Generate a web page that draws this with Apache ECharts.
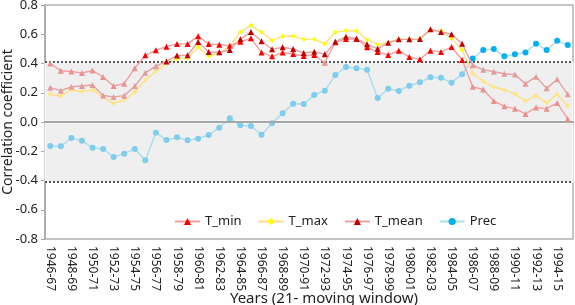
<!DOCTYPE html>
<html><head><meta charset="utf-8">
<script src="https://cdn.jsdelivr.net/npm/echarts@6/dist/echarts.min.js"></script>
<style>html,body{margin:0;padding:0;background:#fff}#c{width:575px;height:305px}</style>
</head><body><div id="c"></div>
<script>
var categories = ["1946-67","1947-68","1948-69","1949-70","1950-71","1951-72","1952-73","1953-74","1954-75","1955-76",
"1956-77","1957-78","1958-79","1959-80","1960-81","1961-82","1962-83","1963-84","1964-85","1965-86",
"1966-87","1967-88","1968-89","1969-90","1970-91","1971-92","1972-93","1973-94","1974-95","1975-96",
"1976-97","1977-98","1978-99","1979-00","1980-01","1981-02","1982-03","1983-04","1984-05","1985-06",
"1986-07","1987-08","1988-09","1989-10","1990-11","1991-12","1992-13","1993-14","1994-15","1995-16"];

var tMin = [0.400,0.350,0.345,0.335,0.352,0.307,0.246,0.262,0.368,0.456,
0.491,0.515,0.534,0.534,0.587,0.533,0.528,0.522,0.549,0.572,
0.476,0.449,0.476,0.465,0.451,0.458,0.405,0.545,0.567,0.569,
0.511,0.479,0.458,0.488,0.444,0.429,0.488,0.479,0.513,0.424,
0.241,0.222,0.144,0.107,0.091,0.055,0.100,0.091,0.130,0.021];

var tMax = [0.189,0.178,0.219,0.207,0.221,0.169,0.128,0.150,0.205,0.287,
0.349,0.399,0.433,0.438,0.511,0.451,0.470,0.520,0.615,0.661,
0.615,0.558,0.586,0.588,0.565,0.565,0.535,0.613,0.625,0.622,
0.563,0.530,0.542,0.565,0.565,0.567,0.629,0.622,0.572,0.492,
0.333,0.278,0.239,0.219,0.191,0.144,0.180,0.132,0.189,0.109];

var tMean = [0.235,0.214,0.241,0.246,0.253,0.182,0.171,0.180,0.246,0.336,
0.382,0.414,0.455,0.456,0.547,0.479,0.477,0.492,0.565,0.615,
0.552,0.497,0.511,0.499,0.472,0.481,0.463,0.549,0.583,0.570,
0.531,0.501,0.542,0.565,0.565,0.567,0.634,0.615,0.600,0.535,
0.388,0.358,0.344,0.330,0.324,0.262,0.310,0.230,0.292,0.189];

var prec = [-0.164,-0.166,-0.109,-0.128,-0.176,-0.185,-0.239,-0.217,-0.184,-0.262,
-0.073,-0.123,-0.105,-0.125,-0.114,-0.089,-0.039,0.025,-0.023,-0.027,
-0.087,-0.009,0.059,0.125,0.123,0.185,0.214,0.321,0.376,0.367,
0.358,0.164,0.228,0.212,0.248,0.271,0.306,0.303,0.269,0.326,
0.435,0.492,0.499,0.449,0.463,0.476,0.535,0.492,0.556,0.526];

var yTicks = [-0.8,-0.6,-0.4,-0.2,0.0,0.2,0.4,0.6,0.8];
var threshold = 0.41;

var FONT = 'Noto Sans';

function mk(name, vals, lineColor, sigColor, paleColor, symbol, size, z) {
  return {
    name: name, type: 'line', z: z,
    data: vals.map(function (v) {
      return { value: v, itemStyle: { color: Math.abs(v) >= threshold ? sigColor : paleColor } };
    }),
    symbol: symbol, symbolSize: size, showAllSymbol: true,
    lineStyle: { color: lineColor, width: 1.4 },
    itemStyle: { color: sigColor },
    emphasis: { disabled: true },
    silent: true
  };
}

var chart = echarts.init(document.getElementById('c'), null, { renderer: 'canvas' });
chart.setOption({
  animation: false,
  backgroundColor: '#ffffff',
  textStyle: { fontFamily: FONT },
  grid: { left: 45, right: 2, top: 5, bottom: 66, containLabel: false, outerBoundsMode: 'none',
    show: true, borderColor: '#b3b3b3', borderWidth: 1.5, backgroundColor: 'transparent' },
  legend: {
    left: 169, top: 210, itemGap: 16, itemWidth: 25, itemHeight: 9,
    textStyle: { fontSize: 13, color: '#222', fontFamily: FONT },
    data: ['T_min', 'T_max', 'T_mean', 'Prec']
  },
  xAxis: {
    type: 'category', data: categories, boundaryGap: true,
    name: 'Years (21- moving window)', nameLocation: 'middle', nameGap: 52, nameMoveOverlap: false,
    nameTextStyle: { fontSize: 15, color: '#222', fontFamily: FONT, padding: [0, 0, 0, 30] },
    axisLine: { show: true, lineStyle: { color: '#a6a6a6', width: 1.5 } },
    axisTick: { show: true, interval: 0, length: 4, lineStyle: { color: '#a6a6a6' } },
    axisLabel: { interval: 1, rotate: -90, fontSize: 12, color: '#222', margin: 7, fontFamily: FONT },
    splitLine: { show: false }
  },
  yAxis: {
    type: 'value', min: -0.8, max: 0.8, interval: 0.2,
    name: 'Correlation coefficient', nameLocation: 'middle', nameGap: 30, nameMoveOverlap: false,
    nameTextStyle: { fontSize: 14, color: '#222', fontFamily: FONT },
    axisLine: { show: true, lineStyle: { color: '#a6a6a6', width: 1.5 } },
    axisTick: { show: true, length: 4, lineStyle: { color: '#a6a6a6' } },
    axisLabel: { fontSize: 13, color: '#222', margin: 7, fontFamily: FONT,
      formatter: function (v) { return v.toFixed(1); } },
    splitLine: { show: false }
  },
  series: [
    {
      name: 'bg', type: 'line', data: [], z: 1, silent: true,
      markArea: {
        silent: true,
        itemStyle: { color: '#efefef', borderColor: '#ffffff', borderWidth: 1 },
        data: [[{ yAxis: threshold }, { yAxis: 0.006 }], [{ yAxis: -0.006 }, { yAxis: -threshold }]]
      },
      markLine: {
        silent: true, symbol: ['none', 'none'], label: { show: false },
        data: [
          { yAxis: threshold, lineStyle: { color: '#555', type: [2, 2], width: 2 } },
          { yAxis: -threshold, lineStyle: { color: '#555', type: [2, 2], width: 2 } },
          { yAxis: 0, lineStyle: { color: '#a6a6a6', type: 'solid', width: 2 } }
        ]
      }
    },
    mk('T_min', tMin, '#f4a0a0', '#ff0000', '#e99090', 'triangle', 6, 5),
    mk('T_max', tMax, '#ffdf80', '#ffff00', '#ffe680', 'diamond', 5, 4),
    mk('T_mean', tMean, '#e3a3a3', '#c00000', '#e69a9a', 'triangle', 6, 6),
    mk('Prec', prec, '#a8dcef', '#00b0f0', '#7fcdec', 'circle', 6, 3)
  ]
});
</script></body></html>
